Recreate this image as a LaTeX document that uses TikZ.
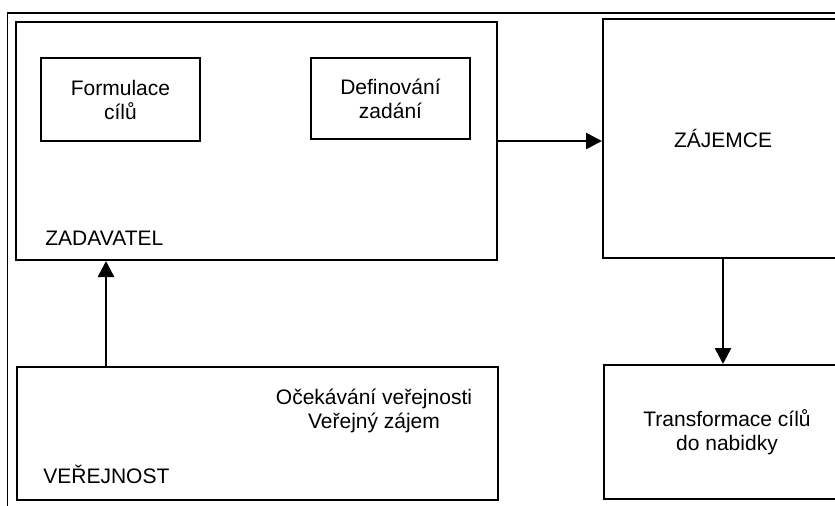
\documentclass[tikz,border=0pt]{standalone}
\usepackage{fontspec}
\setmainfont{Liberation Sans}
\usetikzlibrary{arrows.meta}
\begin{document}
\begin{tikzpicture}[x=0.5pt, y=-0.5pt,
    boxStyle/.style={rectangle, draw, line width=1pt, align=center, inner sep=0pt},
    labelStyle/.style={inner sep=0pt, anchor=base west},
    arrowStyle/.style={line width=1.3pt, -{Triangle[length=8pt, width=8pt]}},
    font=\fontsize{10.5}{12}\selectfont]
    \clip (0,0) rectangle (835,505);
    \useasboundingbox (0,0) rectangle (835,505);
    \draw[line width=0.9pt] (7.5,13) rectangle (950,650);

    \node[boxStyle, minimum width=240.75pt, minimum height=119pt](zadavatel) at (256.25, 141) {};
    \node[boxStyle, minimum width=79.5pt, minimum height=41.5pt](formulace) at (120.5, 99.5) {Formulace\\cílů};
    \node[boxStyle, minimum width=79.5pt, minimum height=40.5pt](definovani) at (390.5, 98.5) {Definování\\zadání};
    \node[labelStyle](zadavatelLabel) at (45, 245) {ZADAVATEL};

    \node[boxStyle, minimum width=120pt, minimum height=119.5pt](zajemce) at (723, 138.5) {ZÁJEMCE};

    \node[boxStyle, minimum width=240.5pt, minimum height=66.5pt](verejnost) at (257.5, 433.5) {};
    \node[align=center, inner sep=0pt](ocekavani) at (374, 411) {Očekávání veřejnosti\\Veřejný zájem};
    \node[labelStyle](verejnostLabel) at (43, 483) {VEŘEJNOST};

    \node[boxStyle, minimum width=123pt, minimum height=67pt](transformace) at (727, 432) {Transformace cílů\\do nabidky};

    \draw[arrowStyle] (zadavatel.east) -- (zadavatel.east -| zajemce.west);
    \draw[arrowStyle] (zajemce.south) -- (zajemce.south |- transformace.north);
    \draw[arrowStyle] ([xshift=45pt]verejnost.north west) -- ([xshift=45pt]verejnost.north west |- zadavatel.south);
\end{tikzpicture}
\end{document}
